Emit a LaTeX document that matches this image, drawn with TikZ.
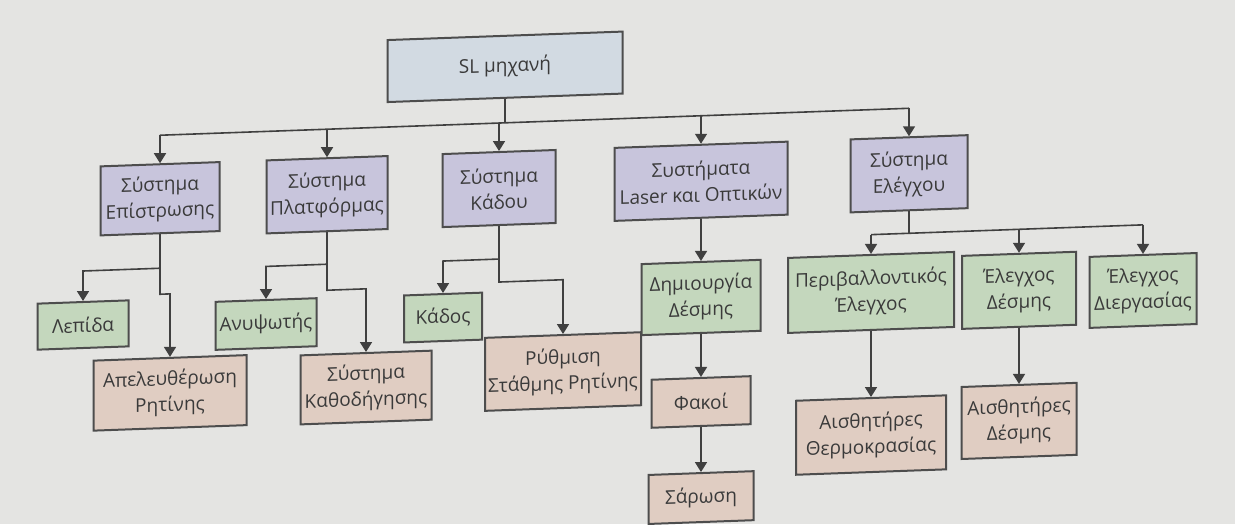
\documentclass[tikz,border=0pt]{standalone}
\usepackage{fontspec}
\setmainfont{Open Sans}
\usetikzlibrary{arrows.meta}
\definecolor{bgc}{HTML}{E4E4E2}
\definecolor{topc}{HTML}{D2DAE2}
\definecolor{lavc}{HTML}{C8C5DC}
\definecolor{grnc}{HTML}{C4D7BD}
\definecolor{pnkc}{HTML}{E0CDC2}
\definecolor{bordc}{HTML}{4D4D4D}
\definecolor{linec}{HTML}{404040}
\definecolor{txtc}{HTML}{3A3A3A}
\tikzset{
  box/.style={draw=bordc, line width=1pt, text=txtc, align=center, inner sep=0pt,
    font=\fontsize{9.5}{13}\selectfont},
  sz/.style 2 args={minimum width=#1*0.5pt, minimum height=#2*0.5pt},
  topbox/.style={box, fill=topc},
  lavbox/.style={box, fill=lavc},
  grnbox/.style={box, fill=grnc},
  pnkbox/.style={box, fill=pnkc},
  ln/.style={draw=linec, line width=0.8pt},
  arr/.style={ln, -{Triangle[length=5pt,width=6pt]}}
}
\begin{document}
\begin{tikzpicture}[x=0.5pt,y=-0.5pt]
\fill[bgc] (0,0) rectangle (1235,524);
\useasboundingbox (0,0) rectangle (1235,524);
\begin{scope}[yslant=0.036, transform shape]
% top
\node[topbox, sz={235}{62}] (SL) at (505,85) {SL μηχανή};
% level 1
\node[lavbox, sz={119}{69}] (A) at (160,204.5) {Σύστημα\\Επίστρωσης};
\node[lavbox, sz={121}{73}] (B) at (327,206.5) {Σύστημα\\Πλατφόρμας};
\node[lavbox, sz={113}{73}] (C) at (499,206.5) {Σύστημα\\Κάδου};
\node[lavbox, sz={173}{73}] (D) at (701,206.5) {Συστήματα\\Laser και Οπτικών};
\node[lavbox, sz={117}{73}] (E) at (909,206.5) {Σύστημα\\Ελέγχου};
% level 2
\node[grnbox, sz={91}{46}] (A1) at (83,328) {Λεπίδα};
\node[pnkbox, sz={153}{70}] (A2) at (170,399) {Απελευθέρωση\\Ρητίνης};
\node[grnbox, sz={101}{48}] (B1) at (266,333.6) {Ανυψωτής};
\node[pnkbox, sz={131}{69}] (B2) at (366,400.7) {Σύστημα\\Καθοδήγησης};
\node[grnbox, sz={78}{47}] (C1) at (443,333.5) {Κάδος};
\node[pnkbox, sz={156}{73}] (C2) at (563,391.8) {Ρύθμιση\\Στάθμης Ρητίνης};
\node[grnbox, sz={119}{71}] (D1) at (701,322.7) {Δημιουργία\\Δέσμης};
\node[pnkbox, sz={99}{48}] (D2) at (701,427.2) {Φακοί};
\node[pnkbox, sz={105}{49}] (D3) at (701,522.8) {Σάρωση};
\node[grnbox, sz={166}{75}] (E1) at (871,323.8) {Περιβαλλοντικός\\Έλεγχος};
\node[grnbox, sz={114}{73}] (E2) at (1019,327) {Έλεγχος\\Δέσμης};
\node[grnbox, sz={107}{71}] (E3) at (1143,331.6) {Έλεγχος\\Διεργασίας};
\node[pnkbox, sz={150}{74}] (E1a) at (871,466.4) {Αισθητήρες\\Θερμοκρασίας};
\node[pnkbox, sz={115}{72}] (E2a) at (1019,457.6) {Αισθητήρες\\Δέσμης};
% junction coordinates
\coordinate (bus) at (505,141);
\coordinate (bA) at (160,141);
\coordinate (bB) at (327,141);
\coordinate (bC) at (499,141);
\coordinate (bD) at (701,141);
\coordinate (bE) at (909,141);
\coordinate (aJ) at (160,274);
\coordinate (aL) at (83,274);
\coordinate (aK) at (160,300);
\coordinate (aK2) at (170,300);
\coordinate (bJ) at (327,276);
\coordinate (bL) at (266,276);
\coordinate (bK) at (327,302);
\coordinate (bK2) at (366,302);
\coordinate (cJ) at (499,277);
\coordinate (cL) at (443,277);
\coordinate (cK) at (499,300);
\coordinate (cK2) at (563,300);
\coordinate (eJ) at (909,266);
\coordinate (eL) at (871,266);
\coordinate (eM) at (1019,266);
\coordinate (eR) at (1143,266);
% connectors
\draw[ln] (SL) -- (bus);
\draw[ln] (bA) -- (bE);
\draw[arr] (bA) -- (A);
\draw[arr] (bB) -- (B);
\draw[arr] (bC) -- (C);
\draw[arr] (bD) -- (D);
\draw[arr] (bE) -- (E);
\draw[arr] (A) -- (aJ) -- (aL) -- (A1);
\draw[arr] (aJ) -- (aK) -- (aK2) -- (A2);
\draw[arr] (B) -- (bJ) -- (bL) -- (B1);
\draw[arr] (bJ) -- (bK) -- (bK2) -- (B2);
\draw[arr] (C) -- (cJ) -- (cL) -- (C1);
\draw[arr] (cJ) -- (cK) -- (cK2) -- (C2);
\draw[arr] (D) -- (D1);
\draw[arr] (D1) -- (D2);
\draw[arr] (D2) -- (D3);
\draw[ln] (E) -- (eJ);
\draw[ln] (eL) -- (eR);
\draw[arr] (eL) -- (E1);
\draw[arr] (eM) -- (E2);
\draw[arr] (eR) -- (E3);
\draw[arr] (E1) -- (E1a);
\draw[arr] (E2) -- (E2a);
\end{scope}
\end{tikzpicture}
\end{document}
